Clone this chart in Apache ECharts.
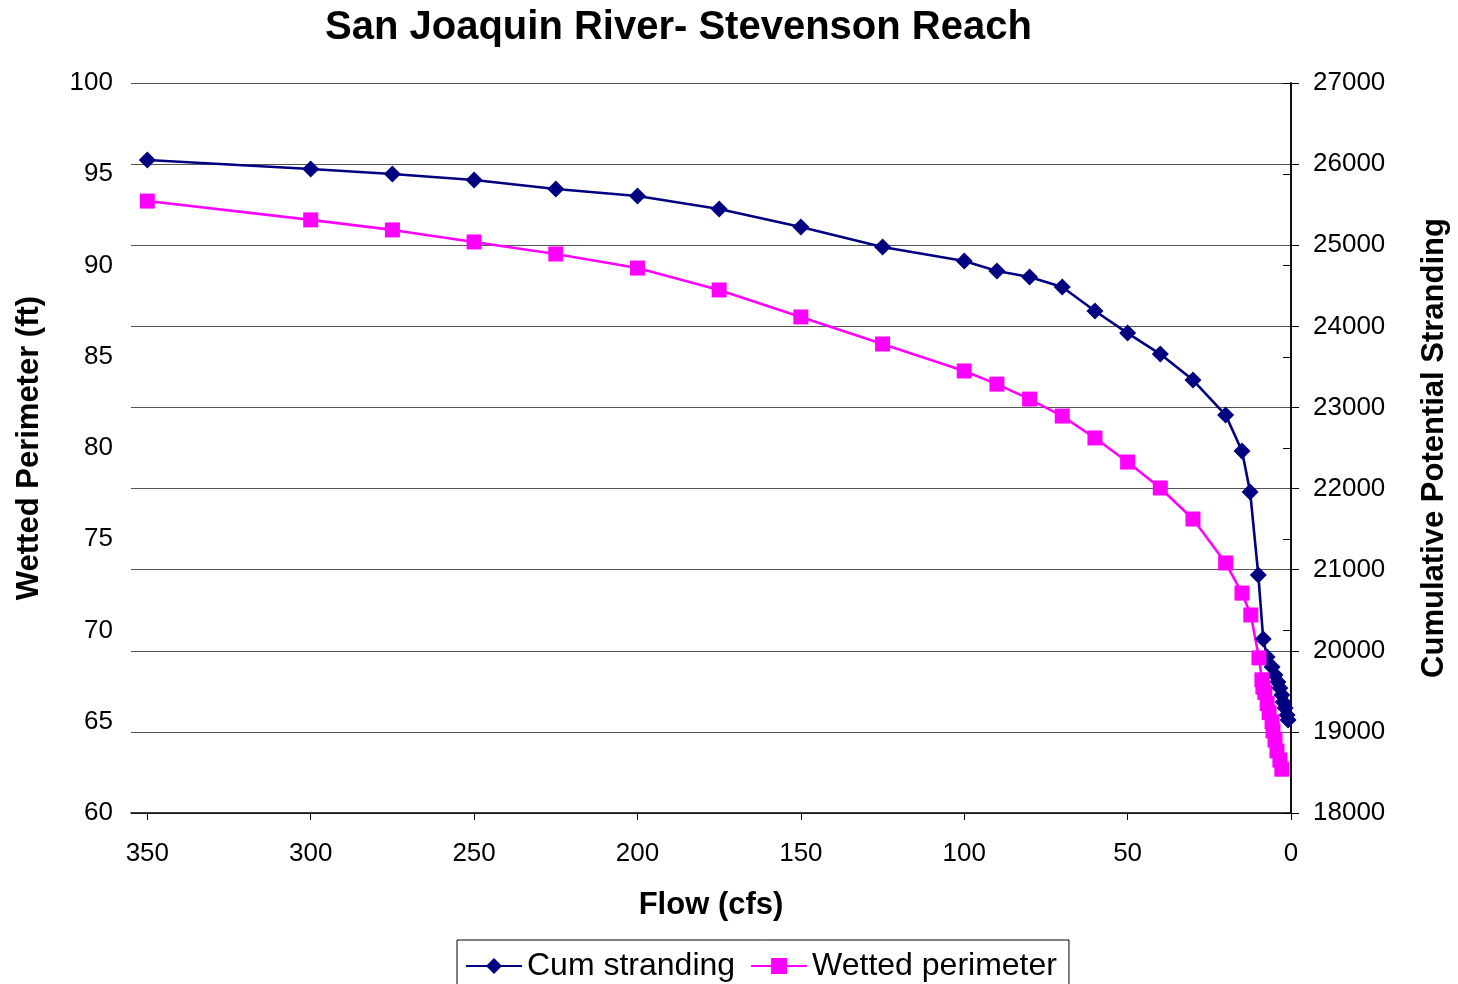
<!DOCTYPE html>
<html><head><meta charset="utf-8">
<script src="https://cdn.jsdelivr.net/npm/echarts@6/dist/echarts.min.js"></script>
<style>html,body{margin:0;padding:0;background:#fff}#c{width:1458px;height:984px}</style>
</head><body><div id="c"></div>
<script>
const cumFlow = [350,300,275,250,225,200,175,150,125,100,90,80,70,60,50,40,30,20,15,12.5,10,8.5,7.3,5.8,4.9,4.0,3.4,2.8,2.4,1.8,1.2,0.9];
const cumValues = [26050,25940,25878,25804,25693,25607,25446,25224,24978,24805,24682,24608,24485,24189,23917,23658,23338,22906,22462,21957,20934,20145,19923,19800,19701,19615,19541,19455,19368,19294,19208,19146];
const wpFlow = [350,300,275,250,225,200,175,150,125,100,90,80,70,60,50,40,30,20,15,12.3,9.8,8.9,8.6,8,7.3,6.7,5.8,5.5,4.9,4.3,3.4,2.8];
const wpValues = [93.53,92.5,91.95,91.29,90.63,89.86,88.66,87.18,85.70,84.22,83.5,82.68,81.75,80.55,79.23,77.81,76.11,73.7,72.05,70.85,68.5,67.3,66.9,66.6,66.0,65.5,65.0,64.5,64.0,63.4,62.9,62.4];

const F = 'Liberation Sans, Arial, sans-serif';
const chart = echarts.init(document.getElementById('c'));
chart.setOption({
  animation:false,
  backgroundColor:'#fff',
  title:{text:'San Joaquin River- Stevenson Reach',left:320,top:3,
    textStyle:{fontFamily:F,fontSize:40,fontWeight:'bold',color:'#000'}},
  grid:{left:131,right:167,top:83,bottom:171,outerBoundsMode:'none',containLabel:false},
  legend:{top:940,left:457,width:614,itemGap:15,padding:[10,12,20,8],
    borderColor:'#000',borderWidth:1,itemWidth:56,itemHeight:20,
    textStyle:{fontFamily:F,fontSize:32,color:'#000'},
    data:['Cum stranding','Wetted perimeter']},
  xAxis:{type:'value',inverse:true,min:0,max:355,interval:50,
    name:'Flow (cfs)',nameLocation:'middle',nameGap:77,
    nameTextStyle:{fontFamily:F,fontSize:31,fontWeight:'bold',color:'#000'},
    axisLine:{lineStyle:{color:'#000',width:1.5}},
    axisTick:{length:7,lineStyle:{color:'#000'}},
    axisLabel:{fontFamily:F,fontSize:26,color:'#000',margin:28,showMaxLabel:false},
    splitLine:{show:false}},
  yAxis:[
    {type:'value',min:60,max:100,interval:5,position:'left',
     name:'Wetted Perimeter (ft)',nameLocation:'middle',nameGap:86,nameRotate:90,
     nameTextStyle:{fontFamily:F,fontSize:31,fontWeight:'bold',color:'#000'},
     axisLine:{show:true,lineStyle:{color:'#000',width:1.5}},
     axisTick:{show:true,length:8,lineStyle:{color:'#000'}},
     axisLabel:{fontFamily:F,fontSize:26,color:'#000',margin:18},
     splitLine:{show:false}},
    {type:'value',min:18000,max:27000,interval:1000,position:'right',
     name:'Cumulative Potential Stranding',nameLocation:'middle',nameGap:128,nameRotate:90,
     nameTextStyle:{fontFamily:F,fontSize:31,fontWeight:'bold',color:'#000'},
     axisLine:{show:true,lineStyle:{color:'#000',width:1.5}},
     axisTick:{show:true,length:8,lineStyle:{color:'#000'}},
     axisLabel:{fontFamily:F,fontSize:26,color:'#000',margin:22,formatter:v=>String(v)},
     splitLine:{show:true,lineStyle:{color:'#555',width:1}}}
  ],
  series:[
    {name:'Cum stranding',type:'line',yAxisIndex:1,
     data:cumFlow.map((f,i)=>[f,cumValues[i]]),
     symbol:'diamond',symbolSize:17,
     lineStyle:{color:'#000080',width:2.6},
     itemStyle:{color:'#000080'}},
    {name:'Wetted perimeter',type:'line',yAxisIndex:0,
     data:wpFlow.map((f,i)=>[f,wpValues[i]]),
     symbol:'rect',symbolSize:15,
     lineStyle:{color:'#FF00FF',width:2.6},
     itemStyle:{color:'#FF00FF'}}
  ]
});
</script></body></html>
